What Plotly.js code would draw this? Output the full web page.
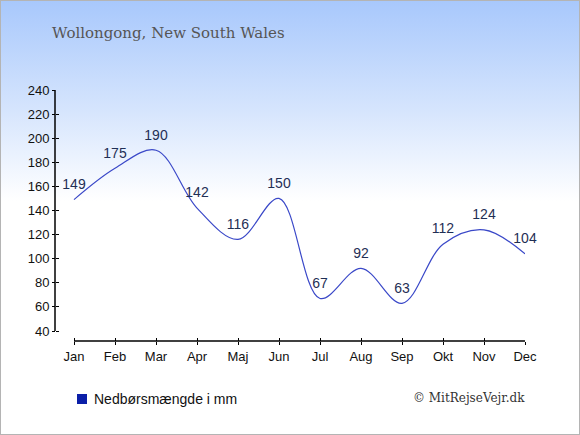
<!DOCTYPE html>
<html><head><meta charset="utf-8">
<script src="https://cdn.plot.ly/plotly-3.0.1.min.js"></script>
<style>
html,body{margin:0;padding:0;background:#fff;}
#wrap{width:580px;height:435px;box-sizing:border-box;border:1px solid #b4b4b4;
background:linear-gradient(to bottom,#a8c8fc 0px,#d6e5fd 110px,#ffffff 200px,#ffffff 435px);}
#chart{width:578px;height:433px;}
</style></head><body>
<div id="wrap"><div id="chart"></div></div>
<script>
const months = ["Jan","Feb","Mar","Apr","Maj","Jun","Jul","Aug","Sep","Okt","Nov","Dec"];
const rainfall = [149,175,190,142,116,150,67,92,63,112,124,104];
const yTicks = [40,60,80,100,120,140,160,180,200,220,240];
const seriesName = "Nedbørsmængde i mm";
const idx = months.map((m,i)=>i);

const lineColor = "#3a48c8";
const traces = [
 {x: idx, y: rainfall, mode: "lines+markers+text", type: "scatter",
  line: {color: lineColor, width: 1.2, shape: "spline", smoothing: 1},
  marker: {size: 10, opacity: 0},
  text: rainfall.map(String), textposition: "top center",
  textfont: {family: "Liberation Sans, Arial, sans-serif", size: 14, color: "#1f2f55"},
  showlegend: false, hoverinfo: "none", cliponaxis: false}
];

const W = 578, H = 433;
const l = 54, r = W - 524, t = 89, b = H - 340;

const layout = {
 width: W, height: H,
 margin: {l: l, r: r, t: t, b: b, pad: 0},
 paper_bgcolor: "rgba(0,0,0,0)", plot_bgcolor: "rgba(0,0,0,0)",
 showlegend: false,
 xaxis: {range: [-19/41, 11], domain: [0,1], anchor: "free", position: 0,
  showgrid: false, zeroline: false, showline: false,
  tickmode: "array", tickvals: idx, ticktext: months,
  ticks: "outside", ticklen: 3, tickwidth: 1, tickcolor: "#000",
  tickfont: {family: "Liberation Sans, Arial, sans-serif", size: 13, color: "#111"},
  fixedrange: true},
 xaxis2: {range: [-19/41, 11], overlaying: "x", anchor: "free", position: 0,
  showgrid: false, zeroline: false, showticklabels: false,
  tickmode: "array", tickvals: idx, ticks: "inside", ticklen: 3, tickcolor: "#000"},
 yaxis: {range: [40 - 10/1.205, 240], domain: [0,1], anchor: "free", position: 0,
  showgrid: false, zeroline: false, showline: false,
  tickmode: "array", tickvals: yTicks, ticktext: yTicks.map(String),
  ticks: "outside", ticklen: 3, tickwidth: 1, tickcolor: "#000",
  tickfont: {family: "Liberation Sans, Arial, sans-serif", size: 13, color: "#111"},
  fixedrange: true},
 yaxis2: {range: [40 - 10/1.205, 240], overlaying: "y", anchor: "free", position: 0,
  showgrid: false, zeroline: false, showticklabels: false,
  tickmode: "array", tickvals: yTicks, ticks: "inside", ticklen: 3, tickcolor: "#000"},
 shapes: [
  {type: "line", xref: "x", yref: "paper", x0: 0, x1: 11, y0: 0, y1: 0, line: {color: "#000", width: 1.5}},
  {type: "line", xref: "paper", yref: "y", x0: 0, x1: 0, y0: 40, y1: 240, line: {color: "#000", width: 1.5}},
  {type: "rect", xref: "paper", yref: "paper", x0: 22/470, x1: 32/470, y0: -63/251, y1: -53/251,
   fillcolor: "#0b1fa8", line: {width: 0}}
 ],
 title: {text: "Wollongong, New South Wales", x: 51/W, xanchor: "left", y: 1 - 32/H, yanchor: "middle",
  font: {family: "DejaVu Serif, Georgia, serif", size: 15, color: "#555"}},
 annotations: [
  {text: seriesName, xref: "paper", yref: "paper", x: 37/470, y: -58/251, xanchor: "left", yanchor: "middle",
   showarrow: false, font: {family: "Liberation Sans, Arial, sans-serif", size: 14, color: "#111"}},
  {text: "© MitRejseVejr.dk", xref: "paper", yref: "paper", x: 1.005, y: -57/251, xanchor: "right", yanchor: "middle",
   showarrow: false, font: {family: "DejaVu Serif, Georgia, serif", size: 12, color: "#333"}}
 ]
};
traces.push({x: [0], y: [40], xaxis: "x2", yaxis: "y2", mode: "markers", marker: {opacity: 0}, showlegend: false, hoverinfo: "none"});
Plotly.newPlot("chart", traces, layout, {displayModeBar: false, staticPlot: true});
</script>
</body></html>
